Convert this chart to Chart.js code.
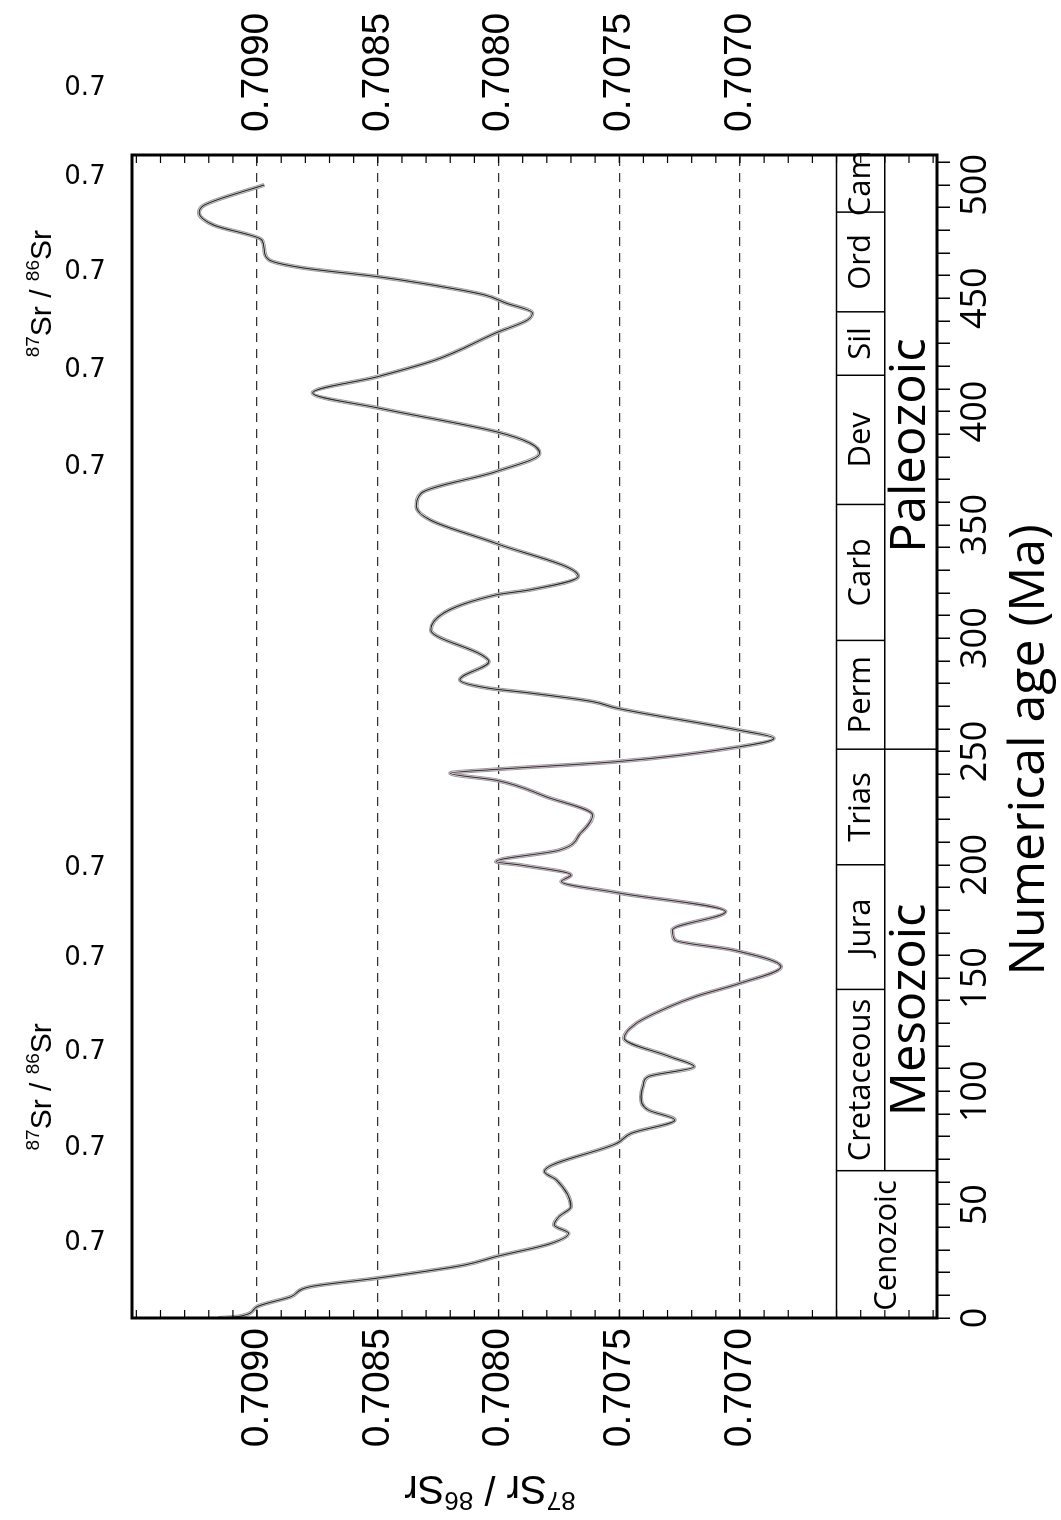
<!DOCTYPE html>
<html>
<head>
<meta charset="utf-8">
<script src="https://cdn.jsdelivr.net/npm/chart.js@4.4.1/dist/chart.umd.min.js"></script>
<style>
  html, body { margin: 0; padding: 0; background: #fff; }
  #marco { position: absolute; left: 0; top: 0; width: 1061px; height: 1520px; overflow: hidden; }
  /* la grafica se dibuja acostada y se gira 90 grados */
  #giro { position: absolute; left: 0; top: 0; width: 1520px; height: 1061px;
          transform-origin: 0 0; transform: translate(0, 1520px) rotate(-90deg); }
</style>
</head>
<body>
<div id="marco"><div id="giro"><canvas id="grafica" width="1520" height="1061"></canvas></div></div>
<script>
// Edad (Ma) y relacion 87Sr/86Sr
const edades = [0, 0.6, 5, 9.4, 13.8, 17.5, 23.4, 27.1, 33, 37.4, 41, 44.7, 49.1, 60.9, 64.6, 77.1, 81.5, 87.4, 91.8, 97.7,
  103, 106.5, 110.9, 115.3, 123.5, 130, 137, 142, 147.7, 155, 162.4, 166.8, 171.2, 179.3, 187.7, 192.6, 195.5, 199.9, 201.4, 206.4,
  214, 221.9, 229.9, 237.3, 240.4, 242.1, 245.5, 252.1, 255.8, 259.5, 269.1, 272, 275.8, 277.9, 281.6, 289.7, 292.6, 303.6, 319.1, 321.3,
  327.2, 341.8, 352, 358, 364, 373.5, 381.6, 386.1, 391.1, 401.6, 408.2, 415.4, 422.8, 434.7, 440.4, 443.5, 447.9, 451.5,
  456.3, 459.5, 463.4, 466.9, 471, 475.7, 482.3, 487.6, 491, 500];
const relacionSr = [0.70916, 0.70908, 0.70900, 0.70886, 0.70878, 0.70851, 0.70814, 0.70801, 0.70778, 0.70771, 0.70777, 0.70775, 0.70770, 0.70776, 0.70781, 0.70751, 0.70745, 0.70727, 0.70738, 0.70741,
  0.70740, 0.70738, 0.70719, 0.70729, 0.70748, 0.70743, 0.70730, 0.70718, 0.70700, 0.70683, 0.70703, 0.70727, 0.70728, 0.70706, 0.70751, 0.70774, 0.70770, 0.70791, 0.70801, 0.70775,
  0.70766, 0.70761, 0.70780, 0.70801, 0.70820, 0.70801, 0.70751, 0.70700, 0.70686, 0.70701, 0.70751, 0.70761, 0.70787, 0.70804, 0.70816, 0.70804, 0.70807, 0.70828, 0.70801, 0.70787,
  0.70767, 0.70801, 0.70828, 0.70834, 0.70832, 0.70801, 0.70783, 0.70787, 0.70801, 0.70850, 0.70877, 0.70850, 0.70826, 0.70801, 0.70788, 0.70786, 0.70797, 0.70806,
  0.70830, 0.70850, 0.70881, 0.70895, 0.70897, 0.70898, 0.70918, 0.70924, 0.70922, 0.70897];

// ejes
const ticksSr = [0.7070, 0.7075, 0.7080, 0.7085, 0.7090];
const ticksEdad = [];
for (let e = 0; e <= 510; e += 10) ticksEdad.push(e);
const srMin = 0.706184, srMax = 0.709518;
const edadMax = 513.2;

// tabla de periodos
const periodos = ['Cenozoic', 'Cretaceous', 'Jura', 'Trias', 'Perm', 'Carb', 'Dev', 'Sil', 'Ord', 'Cam'];
const limites = [0, 65, 145, 200, 251, 299, 359, 416, 444, 488, edadMax];
const eras = ['Mesozoic', 'Paleozoic'];
const posEras = [136, 385];
const limitesEras = [65, 251];
const bordeTabla = 0.7066, bordeEras = 0.7064;

// etiquetas sueltas "0.7" del lado izquierdo
const edadesEtiqueta07 = [33.1, 75, 117.4, 158.9, 198.6, 375.6, 418.4, 461.6, 503.5, 542.8];
const edadesTituloSr = [102, 452];

function linea(ctx, x1, y1, x2, y2) {
  ctx.beginPath(); ctx.moveTo(x1, y1); ctx.lineTo(x2, y2); ctx.stroke();
}

// escribe 87Sr / 86Sr centrado en (0,0)
function textoSr(ctx, grande, chico, familia) {
  const partes = [['87', true], ['Sr', false], [' / ', false], ['86', true], ['Sr', false]];
  let ancho = 0;
  partes.forEach(p => {
    ctx.font = (p[1] ? chico : grande) + 'px "' + familia + '"';
    ancho += ctx.measureText(p[0]).width;
  });
  let x = -ancho / 2;
  const base = grande * 0.36;
  ctx.textAlign = 'left';
  ctx.textBaseline = 'alphabetic';
  partes.forEach(p => {
    ctx.font = (p[1] ? chico : grande) + 'px "' + familia + '"';
    ctx.fillText(p[0], x, p[1] ? base - grande * 0.4 : base);
    x += ctx.measureText(p[0]).width;
  });
}

const extras = {
  id: 'extras',
  afterDraw(chart) {
    const { ctx, chartArea: a } = chart;
    const px = v => chart.scales.x.getPixelForValue(v);
    const py = v => chart.scales.y.getPixelForValue(v);
    ctx.save();
    ctx.strokeStyle = '#000';
    ctx.fillStyle = '#000';

    // marcas interiores cada 0.0001
    ctx.lineWidth = 1.2;
    for (let v = 7062; v <= 7095; v++) {
      const y = py(v / 10000);
      if (y <= a.top || y >= a.bottom) continue;
      linea(ctx, a.left, y, a.left + 8, y);
      linea(ctx, a.right - 8, y, a.right, y);
    }

    // tabla geologica
    const yT = py(bordeTabla), yE = py(bordeEras);
    ctx.lineWidth = 1.5;
    linea(ctx, a.left, yT, a.right, yT);
    linea(ctx, px(limites[1]), yE, a.right, yE);
    limites.slice(1, -1).forEach(l => {
      const x = px(l);
      linea(ctx, x, yT, x, limitesEras.includes(l) ? a.bottom : yE);
    });
    ctx.textAlign = 'center';
    ctx.textBaseline = 'middle';
    ctx.font = '31px "Open Sans"';
    periodos.forEach((p, i) => {
      const c = (limites[i] + limites[i + 1]) / 2;
      if (i === 0) ctx.fillText(p, px(32), (yT + a.bottom) / 2);
      else ctx.fillText(p, px(c), (yT + yE) / 2);
    });
    ctx.font = '49px "Open Sans"';
    eras.forEach((e, i) => ctx.fillText(e, px(posEras[i]), (yE + a.bottom) / 2));

    // titulo del eje de edad
    ctx.font = '50px "Open Sans"';
    ctx.fillText('Numerical age (Ma)', px(250.7), 1030);

    // etiquetas "0.7" giradas
    ctx.font = '26px "DejaVu Sans"';
    edadesEtiqueta07.forEach(e => {
      ctx.save();
      ctx.translate(px(e), 85);
      ctx.rotate(Math.PI / 2);
      ctx.fillText('0.7', 0, 0);
      ctx.restore();
    });
    edadesTituloSr.forEach(e => {
      ctx.save();
      ctx.translate(px(e), 40);
      textoSr(ctx, 30, 19, 'Liberation Sans');
      ctx.restore();
    });

    // titulo del eje de relacion
    ctx.save();
    ctx.translate(30, 490);
    ctx.rotate(-Math.PI / 2);
    textoSr(ctx, 40, 26, 'Liberation Sans');
    ctx.restore();

    // marco
    ctx.lineWidth = 3;
    ctx.strokeRect(a.left, a.top, a.right - a.left, a.bottom - a.top);
    ctx.restore();
  }
};

const puntos = edades.map((e, i) => ({ x: e, y: relacionSr[i] }));
const serie = (color, ancho, orden) => ({
  data: puntos, showLine: true, pointRadius: 0, borderColor: color, borderWidth: ancho,
  cubicInterpolationMode: 'monotone', fill: false, order: orden
});
// linea central con un tono violeta en el Mesozoico
const central = serie('#2e2e2e', 1.3, 1);
central.segment = { borderColor: c => (c.p0.parsed.x > 120 && c.p0.parsed.x < 250 ? '#4d3346' : '#2e2e2e') };

const ejeSr = (posicion, ancho, relleno, conGrilla) => ({
  type: 'linear', position: posicion, min: srMin, max: srMax,
  afterBuildTicks: s => { s.ticks = ticksSr.map(v => ({ value: v })); },
  afterFit: s => { s.width = ancho; },
  grid: { display: conGrilla, drawTicks: false, color: '#333', lineWidth: 1.3 },
  border: { display: false, dash: [9, 7] },
  ticks: { callback: v => v.toFixed(4), font: { family: 'Liberation Sans', size: 39 }, color: '#000', padding: relleno }
});

new Chart(document.getElementById('grafica'), {
  type: 'scatter',
  data: { datasets: [central, serie('#ffffff', 2, 2), serie('#9a9a9a', 4, 3)] },
  options: {
    responsive: false,
    animation: false,
    devicePixelRatio: 1,
    layout: { padding: { top: 132, left: 0, right: 0, bottom: 0 } },
    plugins: { legend: { display: false }, tooltip: { enabled: false } },
    scales: {
      x: {
        type: 'linear', position: 'bottom', min: 0, max: edadMax,
        afterBuildTicks: s => { s.ticks = ticksEdad.map(v => ({ value: v })); },
        afterFit: s => { s.height = 124; },
        grid: { drawOnChartArea: false, drawTicks: true, tickLength: 13, color: '#000', lineWidth: 1.5 },
        border: { display: false },
        ticks: { callback: v => (v % 50 === 0 ? String(v) : ''), font: { family: 'Open Sans', size: 36 },
                 color: '#000', padding: 4, maxRotation: 0, minRotation: 0, autoSkip: false }
      },
      y: ejeSr('left', 202, 10, true),
      y2: ejeSr('right', 155, 23, false)
    }
  },
  plugins: [extras]
});
</script>
</body>
</html>
